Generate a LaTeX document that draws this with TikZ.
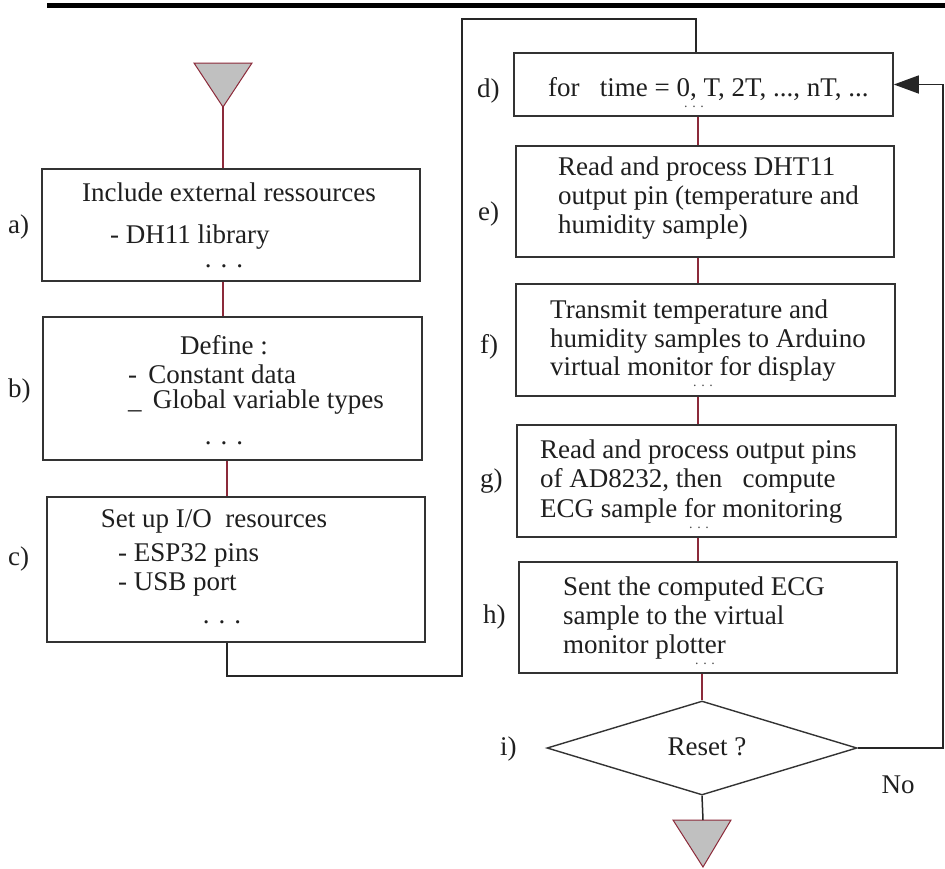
\documentclass[tikz,border=0pt]{standalone}
\usepackage{fontspec}
\setmainfont{Liberation Serif}
\usetikzlibrary{shapes.geometric,arrows.meta,fit}
\definecolor{maroon}{HTML}{8C2A3A}
\definecolor{boxgray}{HTML}{333333}
\definecolor{trifill}{HTML}{C0C0C0}
\tikzset{
  box/.style={draw=boxgray, line width=1.6pt, inner sep=0pt, fill=white},
  lbl/.style={inner sep=0pt, font=\fontsize{27}{29}\selectfont, text=black!88},
  dotsm/.style={inner sep=0pt, font=\fontsize{14}{14}\selectfont, text=black!70},
  conn/.style={draw=maroon, line width=1.2pt},
  loopline/.style={draw=black!85, line width=1.5pt},
  tri/.style={draw=maroon, line width=1pt, fill=trifill, line join=miter},
}
\begin{document}
\begin{tikzpicture}[x=1pt,y=-1pt]
\useasboundingbox (0,0) rectangle (945,868);
\fill[white] (0,0) rectangle (945,868);
% top bar
\coordinate (bar1) at (47,5.5);
\coordinate (bar2) at (945,5.5);
\draw[line width=5pt] (bar1) -- (bar2);

% start triangle
\coordinate (t1) at (223,107);
\draw[tri] (194,63) -- (252,63) -- (t1) -- cycle;

% left boxes
\node[box, fit={(42,169) (420,281)}] (a) {};
\node[box, fit={(43,317) (422,460)}] (b) {};
\node[box, fit={(47,497) (425,642)}] (c) {};

% right boxes
\node[box, fit={(514,53) (893,116)}] (d) {};
\node[box, fit={(516,146) (894,257)}] (e) {};
\node[box, fit={(516,284) (895,396)}] (f) {};
\node[box, fit={(517,425) (896,537)}] (g) {};
\node[box, fit={(519,562) (897,673)}] (h) {};

% decision
\node[draw=boxgray, line width=1.4pt, diamond, minimum width=310pt, minimum height=94pt, inner sep=0pt] (dm) at (702,748) {};

% end triangle
\coordinate (t2top) at (703,820);
\draw[tri] (673,820) -- (731,820) -- (703,867) -- cycle;

% helper coordinates
\coordinate (cx) at (227,0);
\coordinate (rx) at (698,0);
\coordinate (lb) at (462,676);
\coordinate (lt) at (462,19);
\coordinate (dt) at (696,19);
\coordinate (rr) at (943,748);

% connectors
\draw[conn] (t1) -- (t1 |- a.north);
\draw[conn] (a.south -| t1) -- (b.north -| t1);
\draw[conn] (b.south -| cx) -- (c.north -| cx);
\draw[conn] (d.south -| rx) -- (e.north -| rx);
\draw[conn] (e.south -| rx) -- (f.north -| rx);
\draw[conn] (f.south -| rx) -- (g.north -| rx);
\draw[conn] (g.south -| rx) -- (h.north -| rx);
\draw[conn] (h.south -| dm.north) -- (dm.north);
\draw[loopline] (dm.south) -- (t2top);

% loop from c to d
\draw[loopline] (c.south -| cx) -- (cx |- lb) -- (lb) -- (lt) -- (dt) -- (dt |- d.north);
% No-branch back to d
\draw[loopline, -{Triangle[length=25pt,width=18pt]}] (dm.east) -- (rr) -- (rr |- d.east) -- (d.east);

% texts box a
\node[lbl, anchor=base] (a1) at (229,201) {Include external ressources};
\node[lbl, anchor=base west] (a2) at (110,243) {- DH11 library};
\node[lbl, anchor=base] (a3) at (224,267) {. . .};
\node[lbl, anchor=base west] (la) at (8,233) {a)};

% box b
\node[lbl, anchor=base] (b1) at (224,354) {Define :};
\node[lbl, anchor=base west] (b2) at (128,383) {-\, Constant data};
\node[lbl, anchor=base west] (b3) at (128,408) {\_\, Global variable types};
\node[lbl, anchor=base] (b4) at (224,444) {. . .};
\node[lbl, anchor=base west] (lbb) at (8,397) {b)};

% box c
\node[lbl, anchor=base] (c1) at (214,527) {Set up I/O\ \ resources};
\node[lbl, anchor=base west] (c2) at (118,561) {- ESP32 pins};
\node[lbl, anchor=base west] (c3) at (118,590) {- USB port};
\node[lbl, anchor=base] (c4) at (222,623) {. . .};
\node[lbl, anchor=base west] (lc) at (8,565) {c)};

% box d
\node[lbl, anchor=base west] (d1) at (548,96) {for\ \ \ time = 0, T, 2T, ..., nT, ...};
\node[dotsm, anchor=base] (d2) at (694,107) {. . .};
\node[lbl, anchor=base west] (ld) at (477,97) {d)};

% box e
\node[lbl, anchor=base west] (e1) at (558,175) {Read and process DHT11};
\node[lbl, anchor=base west] (e2) at (558,204) {output pin (temperature and};
\node[lbl, anchor=base west] (e3) at (558,233) {humidity sample)};
\node[lbl, anchor=base west] (le) at (478,220) {e)};

% box f
\node[lbl, anchor=base west] (f1) at (550,318) {Transmit temperature and};
\node[lbl, anchor=base west] (f2) at (550,347) {humidity samples to Arduino};
\node[lbl, anchor=base west] (f3) at (550,375) {virtual monitor for display};
\node[dotsm, anchor=base] (f4) at (703,386) {. . .};
\node[lbl, anchor=base west] (lf) at (480,353) {f)};

% box g
\node[lbl, anchor=base west] (g1) at (540,458) {Read and process output pins};
\node[lbl, anchor=base west] (g2) at (540,487) {of AD8232, then\ \ \ compute};
\node[lbl, anchor=base west] (g3) at (540,517) {ECG sample for monitoring};
\node[dotsm, anchor=base] (g4) at (699,528) {. . .};
\node[lbl, anchor=base west] (lg) at (480,487) {g)};

% box h
\node[lbl, anchor=base west] (h1) at (563,595) {Sent the computed ECG};
\node[lbl, anchor=base west] (h2) at (563,624) {sample to the virtual};
\node[lbl, anchor=base west] (h3) at (563,653) {monitor plotter};
\node[dotsm, anchor=base] (h4) at (705,664) {. . .};
\node[lbl, anchor=base west] (lh) at (483,623) {h)};

% decision texts
\node[lbl, anchor=base] (rs) at (707,755) {Reset ?};
\node[lbl, anchor=base west] (li) at (500,755) {i)};
\node[lbl, anchor=base] (no) at (898,793) {No};
\end{tikzpicture}
\end{document}
